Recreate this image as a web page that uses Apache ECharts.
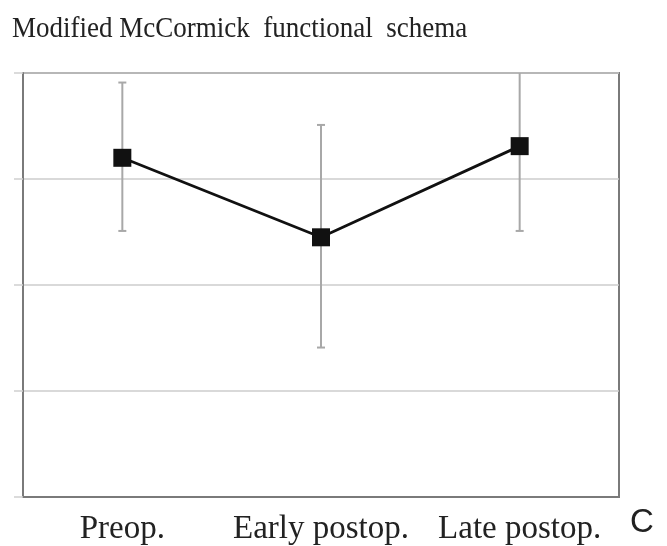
<!DOCTYPE html>
<html>
<head>
<meta charset="utf-8">
<script src="https://cdn.jsdelivr.net/npm/echarts@6/dist/echarts.min.js"></script>
<style>
html,body{margin:0;padding:0;background:#fff;}
#chart{width:667px;height:546px;}
</style>
</head>
<body>
<div id="chart"></div>
<script>
var categories = ['Preop.', 'Early postop.', 'Late postop.'];
var means = [3.20, 2.45, 3.31];
var lowerBounds = [2.51, 1.41, 2.51];
var upperBounds = [3.91, 3.51, 4.12];
var yTicks = [0, 1, 2, 3, 4];
var titleText = 'Modified McCormick  functional  schema';

var chart = echarts.init(document.getElementById('chart'));
var errData = categories.map(function (c, i) { return [i, lowerBounds[i], upperBounds[i]]; });

chart.setOption({
  animation: false,
  backgroundColor: '#fff',
  graphic: [{
    type: 'text',
    x: 12,
    y: 14,
    scaleX: 0.9,
    style: { text: titleText, font: '30px "Liberation Serif"', fill: '#222', textAlign: 'left', textVerticalAlign: 'top' }
  }, {
    type: 'text',
    left: 630,
    top: 506,
    style: { text: 'C', font: '33px "Liberation Sans"', fill: '#222' }
  }],
  grid: { left: 23, right: 48, top: 73, bottom: 48, show: true, borderColor: '#7a7a7a', borderWidth: 2 },
  xAxis: {
    type: 'category',
    data: categories,
    boundaryGap: true,
    axisLine: { show: true, lineStyle: { color: '#7a7a7a', width: 2 } },
    axisTick: { show: false },
    axisLabel: { interval: 0, margin: 16, fontFamily: 'Liberation Serif', fontSize: 33, color: '#222' }
  },
  yAxis: {
    type: 'value',
    min: yTicks[0],
    max: yTicks[yTicks.length - 1],
    interval: 1,
    axisLine: { show: true, lineStyle: { color: '#7a7a7a', width: 2 } },
    axisTick: { show: true, length: 9, lineStyle: { color: '#d0d0d0', width: 1.5 } },
    axisLabel: { show: false },
    splitLine: { show: true, lineStyle: { color: '#cccccc', width: 1.5 } }
  },
  series: [{
    type: 'custom',
    clip: true,
    z: 1,
    data: errData,
    renderItem: function (params, api) {
      var x = api.value(0);
      var lo = api.coord([x, api.value(1)]);
      var hi = api.coord([x, api.value(2)]);
      var hw = 4;
      var style = { stroke: '#a8a8a8', lineWidth: 2 };
      return {
        type: 'group',
        children: [
          { type: 'line', shape: { x1: lo[0], y1: lo[1], x2: hi[0], y2: hi[1] }, style: style },
          { type: 'line', shape: { x1: lo[0] - hw, y1: lo[1], x2: lo[0] + hw, y2: lo[1] }, style: style },
          { type: 'line', shape: { x1: hi[0] - hw, y1: hi[1], x2: hi[0] + hw, y2: hi[1] }, style: style }
        ]
      };
    }
  }, {
    type: 'line',
    z: 3,
    data: means,
    symbol: 'rect',
    symbolSize: 18,
    lineStyle: { color: '#111', width: 2.8 },
    itemStyle: { color: '#111' }
  }]
});
</script>
</body>
</html>
